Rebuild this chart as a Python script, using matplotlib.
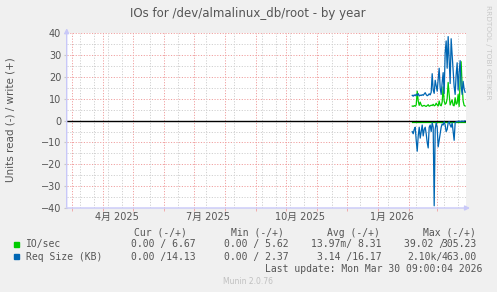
import matplotlib
matplotlib.use('Agg')
import matplotlib.pyplot as plt
from matplotlib.patches import Rectangle
import datetime as dt
import pandas as pd

# data (daily values, Feb 4 - Mar 29 2026)
first_day = '2026-02-04 12:00'
ios_write = [6.7, 6.5, 6.9, 6.6, 7.2, 13.5, 9.0, 7.0, 8.5, 7.2,
             6.6, 6.8, 7.0, 6.7, 6.5, 6.9, 7.3, 6.6, 6.8, 7.1,
             6.9, 7.5, 6.8, 7.0, 8.0, 7.2, 6.7, 9.0, 7.1, 6.8,
             8.5, 15.5, 9.0, 7.5, 8.0, 10.0, 17.5, 12.0, 7.2, 8.5,
             9.5, 7.0, 6.8, 10.5, 7.5, 8.0, 12.0, 6.5, 18.0, 27.0,
             16.0, 9.0, 7.0, 6.7]
ios_read = [-0.4] * 54
req_write = [11.6, 11.2, 11.8, 11.4, 12.1, 11.5, 12.4, 11.3, 11.7, 11.5,
             11.9, 11.6, 12.2, 12.8, 11.9, 11.4, 11.7, 12.3, 11.8, 13.0,
             21.5, 14.0, 12.5, 18.5, 16.0, 13.5, 19.0, 24.0, 15.0, 12.0,
             17.5, 22.0, 12.5, 31.0, 36.5, 24.0, 38.5, 28.0, 17.0, 37.5,
             30.0, 23.0, 15.5, 12.0, 21.0, 26.5, 14.0, 22.0, 27.5, 16.0,
             12.0, 18.0, 14.5, 13.0]
req_read = [-5.0, -6.0, -4.0, -3.0, -9.0, -14.0, -7.0, -3.0, -8.0, -5.0,
            -2.0, -7.0, -4.0, -3.0, -6.0, -10.0, -12.5, -3.0, -2.0, -5.0,
            -1.0, -3.0, -39.0, -4.0, -1.0, -3.0, -12.0, -9.0, -6.0, -3.0,
            -1.5, -2.0, -0.5, -2.0, -5.0, -4.0, -1.0, -0.5, -2.0, -3.0,
            -1.0, -5.0, -9.0, -1.0, -0.5, -0.5, -0.3, -0.2, -0.5, -0.3,
            -0.2, -0.4, -0.2, -0.1]

month_labels = ['4月 2025', '7月 2025', '10月 2025', '1月 2026']
label_dates = ['2025-04-15', '2025-07-15', '2025-10-15', '2026-01-15']

legend_names = ['IO/sec', 'Req Size (KB)']
cur_vals = ['0.00 / 6.67', '0.00 /14.13']
min_vals = ['0.00 / 5.62', '0.00 / 2.37']
avg_vals = ['13.97m/ 8.31', '3.14 /16.17']
max_read = ['39.02 /', '2.10k/']
max_write = ['305.23', '463.00']

GREEN = '#00cc00'
BLUE = '#0066b3'
TXT = '#555555'

plt.rcParams['font.family'] = ['DejaVu Sans', 'Noto Sans CJK JP']

W, H = 497, 292
fig = plt.figure(figsize=(W / 100, H / 100), dpi=100, facecolor='#f0f0f0')

left, right, top, bottom = 66.7, 466.0, 33.3, 208.0
ax = fig.add_axes([left / W, 1 - bottom / H, (right - left) / W, (bottom - top) / H])
ax.set_facecolor('white')

end = dt.datetime(2026, 3, 30, 9, 0, 4)
start = end - dt.timedelta(days=400)
ax.set_xlim(start, end)
ax.set_ylim(-40, 40)

# grid: gray minor, red major
for y in range(-35, 40, 10):
    ax.axhline(y, color='#d0d0d0', lw=0.7, dashes=(1.2, 1.6), zorder=1)
for y in range(-30, 41, 10):
    ax.axhline(y, color='#f0a0a0', lw=0.7, dashes=(1.2, 1.6), zorder=1)
minor_days = ['2025-03-09', '2025-03-23', '2025-04-06', '2025-04-20', '2025-05-18',
              '2025-06-15', '2025-07-13', '2025-08-10', '2025-09-07', '2025-09-21',
              '2025-10-05', '2025-10-19', '2025-11-16', '2025-12-14', '2026-01-11',
              '2026-02-08', '2026-03-08', '2026-03-22']
for d in minor_days:
    ax.axvline(pd.Timestamp(d), color='#d0d0d0', lw=0.7, dashes=(1.2, 1.6), zorder=1)
month_starts = pd.date_range('2025-03-01', '2026-03-01', freq='MS')
for d in month_starts:
    ax.axvline(d, color='#f0a0a0', lw=0.7, dashes=(1.2, 1.6), zorder=1)

days = pd.date_range(first_day, periods=len(req_write), freq='D')
ax.plot(days, ios_read, color=GREEN, lw=0.9, zorder=2)
ax.plot(days, ios_write, color=GREEN, lw=0.9, zorder=3)
ax.plot(days, req_read, color=BLUE, lw=0.9, zorder=4)
ax.plot(days, req_write, color=BLUE, lw=0.9, zorder=4)

ax.axhline(0, color='black', lw=1.0, zorder=3.5)

for s in ax.spines.values():
    s.set_visible(False)

ax.set_yticks(range(-40, 41, 10))
ax.tick_params(axis='y', length=2, color='#c8c8c8', labelsize=7, labelcolor=TXT, pad=2)
ax.set_xticks(pd.to_datetime(label_dates))
ax.set_xticklabels(month_labels)
ax.tick_params(axis='x', length=0, labelsize=7, labelcolor=TXT, pad=3)
ax.set_xticks(month_starts, minor=True)
ax.tick_params(axis='x', which='minor', length=2, color='#f0a0a0')

# axes with arrows
axis_col = '#c8c8f8'
ax.annotate('', xy=(0, 1.045), xytext=(0, -0.01), xycoords='axes fraction',
            arrowprops=dict(arrowstyle='-|>', color=axis_col, lw=1, mutation_scale=7),
            annotation_clip=False, zorder=5)
ax.annotate('', xy=(1.017, 0), xytext=(-0.008, 0), xycoords='axes fraction',
            arrowprops=dict(arrowstyle='-|>', color=axis_col, lw=1, mutation_scale=7),
            annotation_clip=False, zorder=5)

fig.text(248 / W, 1 - 14 / H, 'IOs for /dev/almalinux_db/root - by year',
         ha='center', va='center', fontsize=8.5, color=TXT)
fig.text(11 / W, 1 - 120 / H, 'Units read (-) / write (+)', rotation=90,
         ha='center', va='center', fontsize=7.5, color=TXT)
fig.text(488 / W, 1 - 5 / H, 'RRDTOOL / TOBI OETIKER', rotation=270,
         ha='center', va='top', fontsize=5.3, color='#c8c8c8')

# legend block (monospace like rrdtool)
mono = dict(family='DejaVu Sans Mono', fontsize=7, color=TXT, va='center')
def put(x, y, s, **kw):
    opts = dict(mono)
    opts.update(kw)
    fig.text(x / W, 1 - y / H, s, **opts)

put(134.3, 232.7, 'Cur (-/+)')
put(230.7, 232.7, 'Min (-/+)')
put(326.7, 232.7, 'Avg (-/+)')
put(422.7, 232.7, 'Max (-/+)')
rows_y = [244.3, 256.7]
for i, col in enumerate([GREEN, BLUE]):
    y = rows_y[i]
    fig.patches.append(Rectangle((14 / W, 1 - (y + 2.5) / H), 5 / W, 5 / H,
                                 transform=fig.transFigure, color=col, figure=fig))
    put(26, y, legend_names[i])
    put(131, y, cur_vals[i])
    put(224.3, y, min_vals[i])
    put(317.3 if i else 311, y, avg_vals[i])
    put(404 if i == 0 else 407.3, y, max_read[i])
    put(476.7, y, max_write[i], ha='right')

put(482.3, 268.7, 'Last update: Mon Mar 30 09:00:04 2026', ha='right')
fig.text(248 / W, 1 - 281 / H, 'Munin 2.0.76', ha='center', va='center',
         fontsize=5.5, color='#c0c0c0')

fig.savefig('out.png', dpi=100, facecolor=fig.get_facecolor())
